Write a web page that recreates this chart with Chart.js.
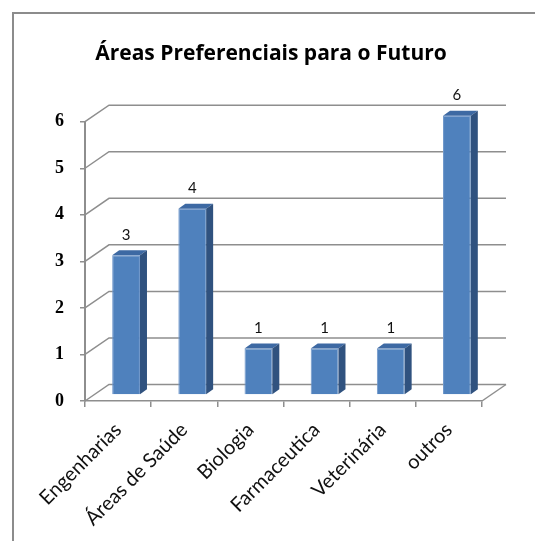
<!DOCTYPE html>
<html>
<head>
<meta charset="utf-8">
<script src="https://cdn.jsdelivr.net/npm/chart.js@4/dist/chart.umd.min.js"></script>
<style>
  html, body { margin: 0; padding: 0; background: #fff; overflow: hidden; }
  #wrap { position: relative; width: 535px; height: 541px; }
  #frame { position: absolute; left: 12px; top: 12px; width: 600px; height: 600px;
           border-left: 2px solid #8c8c8c; border-top: 2px solid #8c8c8c; }
  canvas { position: absolute; left: 0; top: 0; }
</style>
</head>
<body>
<div id="wrap">
  <div id="frame"></div>
  <canvas id="areasChart" width="535" height="541"></canvas>
</div>
<script>
const categories = ['Engenharias', 'Áreas de Saúde', 'Biologia', 'Farmaceutica', 'Veterinária', 'outros'];
const respostas = [3, 4, 1, 1, 1, 6];
const yTicks = [0, 1, 2, 3, 4, 5, 6];

const gridColor = '#8e8e8e';
const wallDepth = { x: 24, y: -16.5 };  // back wall offset from the front axes
const barShift = { x: 8, y: -6 };       // bars stand a bit inside the floor
const barDepth = { x: 7, y: -5 };

// walls + 3d faces, drawn around the library's own bars
const plot3d = {
    id: 'plot3d',
    beforeDatasetsDraw(chart) {
        const { ctx, chartArea: a, scales: { y } } = chart;
        ctx.save();
        ctx.strokeStyle = gridColor;
        ctx.lineWidth = 1.5;
        yTicks.forEach(function (v) {
            const py = y.getPixelForValue(v);
            ctx.beginPath();
            ctx.moveTo(a.left, py);
            ctx.lineTo(a.left + wallDepth.x, py + wallDepth.y);
            ctx.lineTo(a.right + wallDepth.x, py + wallDepth.y);
            ctx.stroke();
        });
        ctx.beginPath();
        ctx.moveTo(a.right, a.bottom);
        ctx.lineTo(a.right + wallDepth.x, a.bottom + wallDepth.y);
        ctx.stroke();
        ctx.restore();

        ctx.save();
        ctx.translate(barShift.x, barShift.y);
    },
    afterDatasetsDraw(chart) {
        const ctx = chart.ctx;
        chart.getDatasetMeta(0).data.forEach(function (bar, i) {
            const p = bar.getProps(['x', 'y', 'base', 'width'], true);
            const l = p.x - p.width / 2, r = p.x + p.width / 2;

            ctx.fillStyle = '#3d69a3';
            ctx.beginPath();
            ctx.moveTo(l, p.y);
            ctx.lineTo(l + barDepth.x, p.y + barDepth.y);
            ctx.lineTo(r + barDepth.x, p.y + barDepth.y);
            ctx.lineTo(r, p.y);
            ctx.closePath();
            ctx.fill();

            ctx.fillStyle = '#30527f';
            ctx.beginPath();
            ctx.moveTo(r, p.y);
            ctx.lineTo(r + barDepth.x, p.y + barDepth.y);
            ctx.lineTo(r + barDepth.x, p.base + barDepth.y);
            ctx.lineTo(r, p.base);
            ctx.closePath();
            ctx.fill();

            ctx.fillStyle = '#111';
            ctx.font = '15px Lato';
            ctx.textAlign = 'center';
            ctx.textBaseline = 'alphabetic';
            ctx.fillText(String(respostas[i]), p.x, p.y - 15.5);
        });
        ctx.restore();
    }
};

new Chart(document.getElementById('areasChart'), {
    type: 'bar',
    data: {
        labels: categories,
        datasets: [{
            data: respostas,
            backgroundColor: '#4f81bd',
            borderColor: '#6f97ca',
            borderWidth: 1,
            categoryPercentage: 1,
            barPercentage: 0.42,
            clip: false
        }]
    },
    options: {
        responsive: false,
        animation: false,
        devicePixelRatio: 1,
        layout: { padding: { left: 30, right: 23, top: 0, bottom: 0 } },
        scales: {
            x: {
                offset: true,
                afterFit: function (s) { s.height = 140; },
                grid: { drawOnChartArea: false, offset: true, tickLength: 6, color: gridColor, lineWidth: 1.5 },
                border: { display: true, color: gridColor, width: 1.5 },
                ticks: {
                    autoSkip: false, minRotation: 45, maxRotation: 45, padding: 11,
                    color: '#111', font: { family: 'Lato', size: 20 }
                }
            },
            y: {
                min: 0, max: 6,
                afterFit: function (s) { s.width = 55; },
                grid: { drawOnChartArea: false, tickLength: 5, color: gridColor, lineWidth: 1.5 },
                border: { display: true, color: gridColor, width: 2 },
                ticks: {
                    stepSize: 1, padding: 16, color: '#000',
                    font: { family: 'Liberation Serif', size: 18, weight: 'bold' }
                }
            },
            // empty box on the right so the title sits where it does in the original
            spacer: {
                position: 'right',
                afterFit: function (s) { s.width = 30; },
                grid: { display: false },
                border: { display: false },
                ticks: { display: false }
            }
        },
        plugins: {
            legend: { display: false },
            tooltip: { enabled: false },
            title: {
                display: true,
                text: 'Áreas Preferenciais para o Futuro',
                color: '#000',
                font: { family: 'Open Sans', size: 21, weight: 'bold' },
                padding: { top: 41, bottom: 55.5 }
            }
        }
    },
    plugins: [plot3d]
});
</script>
</body>
</html>
